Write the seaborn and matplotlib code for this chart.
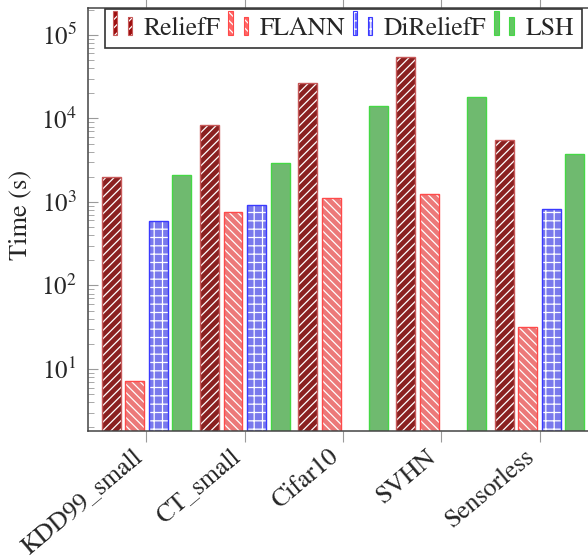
import matplotlib
matplotlib.use("Agg")
import matplotlib.pyplot as plt
import matplotlib.patches as mpatches
from matplotlib.legend_handler import HandlerBase
from matplotlib.ticker import LogLocator, NullFormatter
import seaborn as sns
import pandas as pd
import numpy as np

datasets = ['KDD99_small', 'CT_small', 'Cifar10', 'SVHN', 'Sensorless']
methods = ['ReliefF', 'FLANN', 'DiReliefF', 'LSH']
relieff = [2010, 8280, 26400, 55000, 5520]
flann = [7.1, 753, 1117, 1236, 32.1]
direlieff = [587, 929, np.nan, np.nan, 831]
lsh = [2090, 2960, 14200, 17900, 3790]

fills = ['#9c0e0e', '#ff6666', '#6666ff', '#62c762']
edges = ['#c85a5a', '#ff4a4a', '#3a3aff', '#45d845']
hatches = ['////', '\\\\\\\\', '++', '']

sns.set_theme(style='white')
plt.rcParams['font.family'] = ['STIXGeneral', 'Liberation Serif', 'DejaVu Serif']
plt.rcParams['mathtext.fontset'] = 'stix'
plt.rcParams['hatch.linewidth'] = 0.9

df = pd.DataFrame({
    'dataset': np.repeat(datasets, len(methods)),
    'method': methods * len(datasets),
    'time': np.column_stack([relieff, flann, direlieff, lsh]).ravel(),
})

fig = plt.figure(figsize=(5.88, 5.58), dpi=100)
ax = fig.add_axes([88 / 588, 1 - 431 / 558, 510 / 588, 423 / 558])

sns.barplot(data=df, x='dataset', y='time', hue='method', order=datasets,
            hue_order=methods, palette=fills, width=0.96, gap=0.2,
            errorbar=None, legend=False, ax=ax)
ax.set_yscale('log')

# pgfplots-like bars: white pattern, coloured outline on top
for cont, ec, h in zip(ax.containers, edges, hatches):
    for p in cont:
        if not np.isfinite(p.get_height()):
            continue
        p.set_hatch(h)
        p.set_edgecolor('white')
        p.set_linewidth(0)
        ax.add_patch(mpatches.Rectangle(p.get_xy(), p.get_width(), p.get_height(),
                                        fill=False, edgecolor=ec, lw=1.0))

ax.set_xlim(-0.595, 4.595)
ax.set_ylim(1.81, 2.1e5)

ax.yaxis.set_major_locator(LogLocator(base=10, numticks=10))
ax.yaxis.set_minor_locator(LogLocator(base=10, subs=np.arange(2, 10), numticks=10))
ax.yaxis.set_minor_formatter(NullFormatter())
ax.tick_params(axis='y', which='major', direction='in', length=7, width=0.8,
               color='#9a9a9a', labelsize=18, pad=8, left=True, right=True)
ax.tick_params(axis='y', which='minor', direction='in', length=4.5, width=0.6,
               color='#9a9a9a', left=True, right=True)
ax.tick_params(axis='x', which='major', direction='out', length=8, width=0.8,
               color='#9a9a9a', labelsize=18.5, pad=2, bottom=True, top=True)
plt.setp(ax.get_xticklabels(), rotation=40, ha='right', va='top')

for s in ax.spines.values():
    s.set_color('#444444')
    s.set_linewidth(1.1)

ax.set_xlabel('')
ax.set_ylabel('Time (s)', fontsize=19)
ax.yaxis.set_label_coords(-0.11, 0.51)


class TwoBars(HandlerBase):
    def create_artists(self, legend, orig, xd, yd, w, h, fs, trans):
        out = []
        for x0, hh in [(0.0, 1.3), (0.78, 1.0)]:
            xy = (x0 * w - xd, -yd)
            out.append(mpatches.Rectangle(xy, 0.22 * w, hh * h, facecolor=orig.get_facecolor(),
                                          edgecolor='white', lw=0, hatch=orig.get_hatch(),
                                          transform=trans))
            out.append(mpatches.Rectangle(xy, 0.22 * w, hh * h, fill=False,
                                          edgecolor=orig.get_edgecolor(), lw=0.8,
                                          transform=trans))
        return out


handles = [mpatches.Patch(facecolor=f, edgecolor=e, hatch=h, label=m)
           for f, e, h, m in zip(fills, edges, hatches, methods)]
leg = ax.legend(handles=handles, ncol=4, fontsize=18.5, loc='upper left',
                bbox_to_anchor=(105 / 588, 1 - 9 / 558), bbox_transform=fig.transFigure,
                borderaxespad=0, handlelength=0.76, handleheight=0.7, handletextpad=0.45,
                columnspacing=0.3, borderpad=0.3, fancybox=False, framealpha=1,
                edgecolor='#333333', handler_map={mpatches.Patch: TwoBars()})
leg.get_frame().set_linewidth(1.2)

fig.savefig('out.png', dpi=100)
